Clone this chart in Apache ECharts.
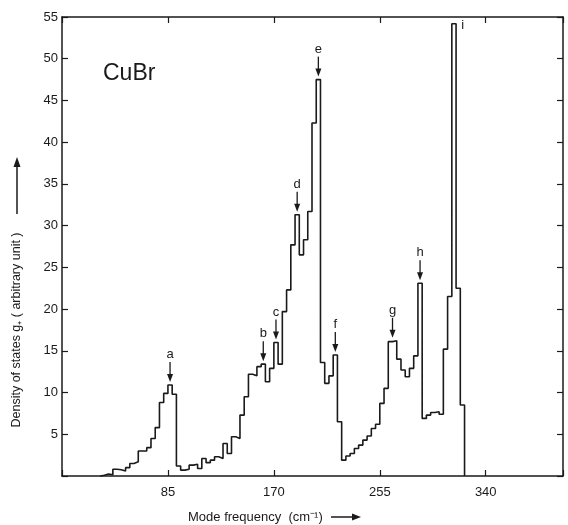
<!DOCTYPE html>
<html><head><meta charset="utf-8">
<script src="https://cdn.jsdelivr.net/npm/echarts@6/dist/echarts.min.js"></script>
<style>html,body{margin:0;padding:0;background:#fff}#c{width:568px;height:525px}</style>
</head><body><div id="c"></div>
<script>
// histogram bins (cm^-1)
const binWidth = 3.4;
const firstBin = 9;
const densityValues = [
  0.1, 0.25, 0.15, 0.8, 0.75, 0.6, 1.0, 1.5, 1.7, 3.0,   // bins 9-18
  3.0, 3.4, 4.5, 5.8, 8.8, 9.9, 10.9, 9.8, 1.2, 0.7,     // 19-28
  0.8, 1.3, 1.4, 0.9, 2.1, 1.6, 1.9, 2.3, 2.1, 3.9,      // 29-38
  2.7, 4.7, 4.5, 7.3, 9.5, 12.2, 12.0, 13.1, 13.4, 11.3, // 39-48
  12.9, 16.0, 13.4, 19.7, 22.3, 27.7, 31.3, 26.5, 28.3, 31.7, // 49-58
  42.3, 47.5, 13.6, 11.1, 12.0, 14.5, 6.5, 1.9, 2.4, 2.7,    // 59-68
  3.3, 3.7, 4.3, 4.8, 5.7, 6.2, 8.7, 10.5, 16.1, 16.2,       // 69-78
  14.0, 12.7, 11.9, 12.9, 14.4, 23.1, 6.9, 7.3, 7.6, 7.7,    // 79-88
  7.4, 15.2, 21.5, 54.2, 22.5, 8.5                           // 89-94
];
const xTicks = [85, 170, 255, 340];
const yTicks = [5, 10, 15, 20, 25, 30, 35, 40, 45, 50, 55];
const annotLabels = ['a', 'b', 'c', 'd', 'e', 'f', 'g', 'h', 'i'];
const annotX = [86.7, 161.5, 171.7, 188.7, 205.7, 219.3, 265.2, 287.3, 318];
const annotY = [10.9, 13.4, 16.0, 31.3, 47.5, 14.5, 16.2, 23.1, 53.8];
const annotArrow = [true, true, true, true, true, true, true, true, false];

const FONT = "'Liberation Sans', Arial, Helvetica, sans-serif";
const INK = '#1a1a1a';

const pts = [[firstBin * binWidth, 0]];
densityValues.forEach((v, i) => pts.push([(firstBin + i) * binWidth, v]));
pts.push([(firstBin + densityValues.length) * binWidth, 0]);

const annotData = annotLabels.map((l, i) => [annotX[i], annotY[i], i]);

function axisCommon(extra) {
  return Object.assign({
    type: 'value',
    axisLine: { show: true, onZero: false, lineStyle: { color: INK, width: 1.5 } },
    axisTick: { show: true, inside: true, length: 6, lineStyle: { color: INK, width: 1.2 } },
    splitLine: { show: false }
  }, extra);
}

const chart = echarts.init(document.getElementById('c'));
chart.setOption({
  animation: false,
  backgroundColor: '#fff',
  grid: { left: 62, right: 5, top: 17, bottom: 49 },
  xAxis: [
    axisCommon({ min: 0, max: 402, interval: 85, position: 'bottom',
      axisLabel: { color: INK, fontSize: 13, fontFamily: FONT, margin: 10,
        formatter: v => xTicks.includes(v) ? String(v) : '' } }),
    axisCommon({ min: 0, max: 402, interval: 85, position: 'top', axisLabel: { show: false } })
  ],
  yAxis: [
    axisCommon({ min: 0, max: 55, interval: 5, position: 'left',
      axisLabel: { color: INK, fontSize: 13, fontFamily: FONT, margin: 4,
        formatter: v => yTicks.includes(v) ? String(v) : '' } }),
    axisCommon({ min: 0, max: 55, interval: 5, position: 'right', axisLabel: { show: false } })
  ],
  series: [
    {
      type: 'line', step: 'end', data: pts, symbol: 'none',
      lineStyle: { color: INK, width: 1.6 }, xAxisIndex: 0, yAxisIndex: 0
    },
    {
      type: 'custom', coordinateSystem: 'cartesian2d', xAxisIndex: 0, yAxisIndex: 0,
      data: annotData, clip: false,
      renderItem: function (params, api) {
        const i = api.value(2);
        const p = api.coord([api.value(0), api.value(1)]);
        const lbl = annotLabels[i];
        if (!annotArrow[i]) {
          return { type: 'text', style: { text: lbl, x: p[0] + 3, y: p[1] - 2,
            align: 'left', verticalAlign: 'middle', fill: INK, fontSize: 13, fontFamily: FONT } };
        }
        return {
          type: 'group',
          children: [
            { type: 'line', shape: { x1: p[0], y1: p[1] - 23, x2: p[0], y2: p[1] - 9 },
              style: { stroke: INK, lineWidth: 1.3 } },
            { type: 'polygon', shape: { points: [[p[0] - 3, p[1] - 11], [p[0] + 3, p[1] - 11], [p[0], p[1] - 3]] },
              style: { fill: INK } },
            { type: 'text', style: { text: lbl, x: p[0], y: p[1] - 24, align: 'center',
              verticalAlign: 'bottom', fill: INK, fontSize: 13, fontFamily: FONT } }
          ]
        };
      }
    }
  ],
  graphic: [
    { type: 'text', left: 103, top: 62, style: { text: 'CuBr', fontSize: 23, fontFamily: FONT, fill: INK } },
    { type: 'text', x: 17, y: 330, rotation: Math.PI / 2,
      style: { text: 'Density of states g\u208A ( arbitrary unit )', fontSize: 12.5, fontFamily: FONT, fill: INK,
        align: 'center', verticalAlign: 'middle' } },
    { type: 'line', shape: { x1: 17, y1: 214, x2: 17, y2: 164 }, style: { stroke: INK, lineWidth: 1.5 } },
    { type: 'polygon', shape: { points: [[13.5, 167], [20.5, 167], [17, 157]] }, style: { fill: INK } },
    { type: 'text', x: 188, y: 517, style: { text: 'Mode frequency  (cm\u207B\u00B9)', fontSize: 13, fontFamily: FONT,
        fill: INK, align: 'left', verticalAlign: 'middle' } },
    { type: 'line', shape: { x1: 331, y1: 517, x2: 354, y2: 517 }, style: { stroke: INK, lineWidth: 1.5 } },
    { type: 'polygon', shape: { points: [[352, 513.5], [352, 520.5], [361, 517]] }, style: { fill: INK } }
  ]
});
</script>
</body></html>
